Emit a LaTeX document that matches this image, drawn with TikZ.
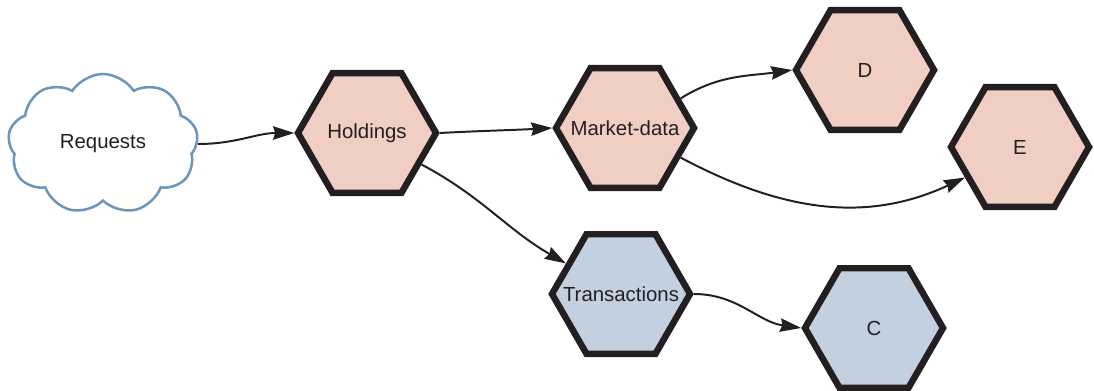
\documentclass[tikz,border=0pt]{standalone}
\usepackage{fontspec}
\setmainfont{Liberation Sans}
\usetikzlibrary{arrows.meta,shapes.geometric,shapes.symbols}

\definecolor{inkdark}{RGB}{35,31,32}
\definecolor{hexpink}{RGB}{240,206,196}
\definecolor{hexblue}{RGB}{194,208,224}
\definecolor{cloudline}{RGB}{110,150,185}

\begin{document}
\begin{tikzpicture}[
    x=0.025cm, y=-0.025cm,
    >={Stealth[length=15pt, width=9.5pt, inset=1.5pt]},
    font=\fontsize{14.5}{17}\selectfont,
    hexnode/.style={regular polygon, regular polygon sides=6, draw=inkdark,
      line width=4.6pt, minimum size=3.45cm, inner sep=0pt, text=inkdark},
    flow/.style={->, line width=1.4pt, draw=inkdark},
  ]

  \useasboundingbox (0,0) rectangle (1094,390);

  % ============================================================
  % Request source
  % ============================================================
  \node[cloud, cloud puffs=9, cloud puff arc=115, aspect=1.3,
        draw=cloudline, line width=1.8pt, fill=white,
        minimum width=4.75cm, minimum height=3.5cm, text=inkdark] (req) at (103,144)
    {Requests};

  % ============================================================
  % Services
  % ============================================================
  \node[hexnode, fill=hexpink] (hold) at (367,133) {\makebox[0pt]{Holdings}};
  \node[hexnode, fill=hexpink] (mkt) at (625,128) {\makebox[0pt]{Market-data}};
  \node[hexnode, fill=hexpink] (dnode) at (865,70) {\makebox[0pt]{D}};
  \node[hexnode, fill=hexpink] (enode) at (1020,147) {\makebox[0pt]{E}};
  \node[hexnode, fill=hexblue] (trans) at (621,294) {\makebox[0pt]{Transactions}};
  \node[hexnode, fill=hexblue] (cnode) at (874,328) {\makebox[0pt]{C}};

  % ============================================================
  % Calls
  % ============================================================
  \draw[flow] (req.east) to[out=0, in=180] (hold.west);
  \draw[flow] (hold.east) to[out=3, in=183] (mkt.west);
  \draw[flow] (hold.-30) to[out=-28, in=150] (trans.151);
  \draw[flow] (mkt.28) to[out=32, in=188] (dnode.west);
  \draw[flow] (mkt.-28) to[out=-28, in=205] (enode.-151);
  \draw[flow] (trans.east) to[out=0, in=172] (cnode.west);

\end{tikzpicture}
\end{document}
